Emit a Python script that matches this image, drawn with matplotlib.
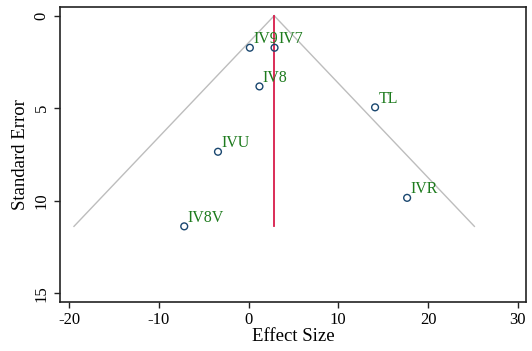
import numpy as np
import matplotlib
matplotlib.use("Agg")
import matplotlib.pyplot as plt

plt.rcParams["font.family"] = ["Liberation Serif", "DejaVu Serif"]
plt.rcParams["axes.unicode_minus"] = False

studies = ["IV9", "IV7", "IV8", "TL", "IVU", "IV8V", "IVR"]
effect = [0.15, 2.9, 1.22, 14.1, -3.4, -7.16, 17.67]
se = [1.73, 1.73, 3.82, 4.95, 7.35, 11.38, 9.84]
pooled = 2.86

fig = plt.figure(figsize=(5.32, 3.51), dpi=100)
ax = fig.add_axes([0.1128, 0.1405, 0.876, 0.8395])

# pseudo 95% confidence limits
se_max = max(se)
se_line = np.array([0.0, se_max])
ax.plot(pooled - 1.96 * se_line, se_line, color="#bdbdbd", lw=1.0, zorder=1)
ax.plot(pooled + 1.96 * se_line, se_line, color="#bdbdbd", lw=1.0, zorder=1)
ax.plot([pooled, pooled], [0, se_max], color="#d81b4a", lw=1.3, zorder=2)

ax.scatter(effect, se, s=24, facecolors="none", edgecolors="#1a476f",
           linewidths=1.0, zorder=3)
for name, x, y in zip(studies, effect, se):
    ax.annotate(name, (x, y), xytext=(2.5, 0.5), textcoords="offset points",
                ha="left", va="bottom", color="#1e7b1e", fontsize=11.5, zorder=4)

ax.set_xlim(-21.0, 30.92)
ax.set_ylim(15.45, -0.47)
ax.set_xticks([-20, -10, 0, 10, 20, 30])
ax.set_yticks([0, 5, 10, 15])
ax.tick_params(axis="both", labelsize=12, length=4, width=1.0, color="#222222")
for lbl in ax.get_yticklabels():
    lbl.set_rotation(90)
    lbl.set_va("center")
ax.set_xlabel("Effect Size", fontsize=13.5, labelpad=0)
ax.set_ylabel("Standard Error", fontsize=13.5, labelpad=3)
for sp in ax.spines.values():
    sp.set_color("#222222")
    sp.set_linewidth(1.2)

fig.savefig("out.png", dpi=100)
